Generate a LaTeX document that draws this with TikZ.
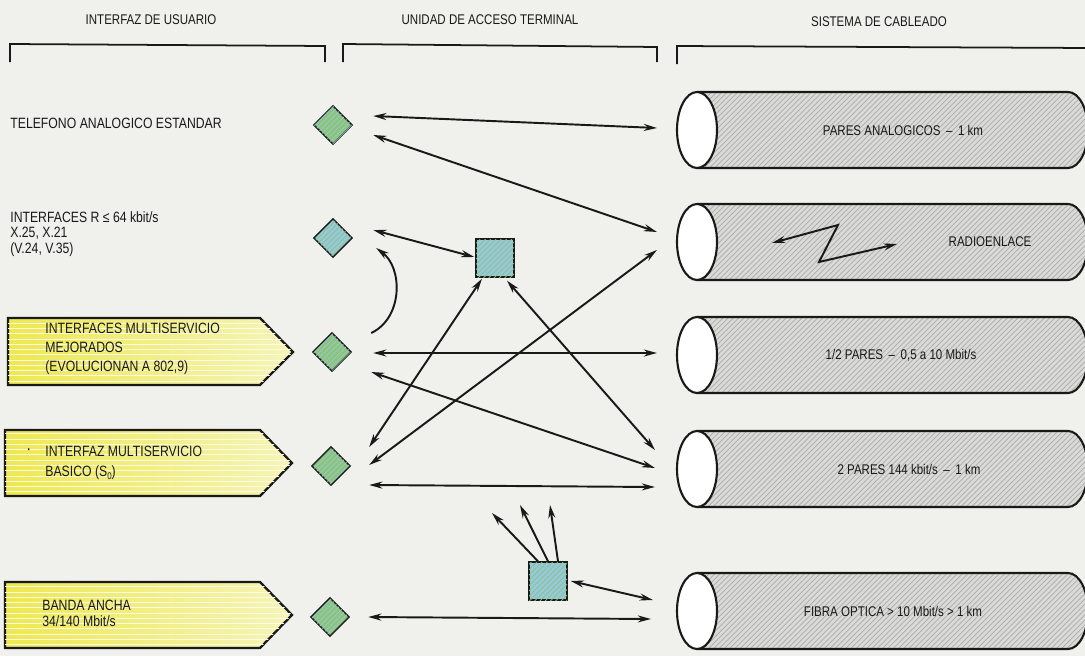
\documentclass[tikz,border=0pt]{standalone}
\usepackage{fontspec}
\setmainfont{Liberation Sans}[FakeStretch=0.82]
\usetikzlibrary{shapes.geometric,arrows.meta,patterns}
\definecolor{bg}{RGB}{240,240,237}
\definecolor{dgreen}{RGB}{140,196,120}
\definecolor{dblue}{RGB}{150,200,222}
\definecolor{ylw}{RGB}{238,232,80}
\definecolor{ylwl}{RGB}{246,244,185}
\definecolor{cylg}{RGB}{218,218,216}
\definecolor{cyls}{RGB}{172,172,170}
\definecolor{ink}{RGB}{25,25,25}
\tikzset{
  hdr/.style={font=\fontsize{8}{9}\selectfont, text=ink, inner sep=0},
  lbl/.style={font=\fontsize{8.5}{9}\selectfont, text=ink, inner sep=0, align=left, anchor=west},
  cyltxt/.style={font=\fontsize{8}{9}\selectfont, text=ink, inner sep=0},
  brk/.style={draw=ink, line width=1pt},
  ybox/.style={draw=ink, line width=1.3pt, left color=ylw, right color=ylwl,
    postaction={pattern=horizontal lines, pattern color=white!60!ylwl}},
  diag/.style={diamond, aspect=1, minimum size=0.78cm, inner sep=0, draw=ink, line width=0.8pt,
    fill=dgreen, postaction={pattern=north east lines, pattern color=dblue}},
  diab/.style={diamond, aspect=1, minimum size=0.78cm, inner sep=0, draw=ink, line width=0.8pt,
    fill=dblue, postaction={pattern=north east lines, pattern color=dgreen}},
  sqb/.style={rectangle, minimum size=0.76cm, inner sep=0, draw=ink, line width=0.8pt,
    fill=dblue, postaction={pattern=north east lines, pattern color=dgreen}},
  cylbody/.style={fill=cylg, postaction={pattern=north east lines, pattern color=cyls}},
  cylline/.style={draw=ink, line width=1.2pt},
  endell/.style={ellipse, minimum width=0.8cm, minimum height=1.52cm, inner sep=0, draw=ink, line width=1.2pt, fill=white},
  conn/.style={draw=ink, line width=1.1pt, {Stealth[length=7.5pt,width=4pt]}-{Stealth[length=7.5pt,width=4pt]}},
  conn1/.style={draw=ink, line width=1.1pt, -{Stealth[length=7.5pt,width=4pt]}},
}
\newcommand\mycyl[3]{%
  \fill[cylbody] (697,#2-38) -- (1068,#2-38) arc[start angle=90,end angle=-90,x radius=0.4cm,y radius=0.76cm] -- (697,#2+38) -- cycle;
  \draw[cylline] (697,#2-38) -- (1068,#2-38) arc[start angle=90,end angle=-90,x radius=0.4cm,y radius=0.76cm] -- (697,#2+38);
  \node[endell] (#1) at (697,#2) {};
  \coordinate (#1t) at (#3,#2);
}
\begin{document}
\begin{tikzpicture}[x=0.02cm,y=-0.02cm]
\useasboundingbox (0,0) rectangle (1085,656);
\fill[bg] (0,0) rectangle (1085,656);

% headers
\node[hdr] (h1) at (151,20) {INTERFAZ DE USUARIO};
\node[hdr] (h2) at (490,20) {UNIDAD DE ACCESO TERMINAL};
\node[hdr] (h3) at (879,22) {SISTEMA DE CABLEADO};
\draw[brk] (10,62) -- (10,44) -- (325,46) -- (325,62);
\draw[brk] (343,62) -- (343,44) -- (657,47) -- (657,62);
\draw[brk] (677,64) -- (677,46) -- (1090,48);

% left labels
\node[lbl] (l1) at (10,123) {TELEFONO ANALOGICO ESTANDAR};
\node[lbl, font=\fontsize{8.5}{8.8}\selectfont] (l2) at (10,234) {INTERFACES R ≤ 64 kbit/s\\X.25, X.21\\(V.24, V.35)};

% yellow boxes
\draw[ybox] (8,318) -- (260,318) -- (293,352) -- (260,385) -- (8,385) -- cycle;
\draw[ybox] (5,430) -- (260,430) -- (292,463) -- (260,496) -- (5,496) -- cycle;
\draw[ybox] (5,582) -- (260,582) -- (292,615) -- (260,648) -- (5,648) -- cycle;
\node[lbl, font=\fontsize{8.5}{10.8}\selectfont] (l3) at (45,349) {INTERFACES MULTISERVICIO\\MEJORADOS\\(EVOLUCIONAN A 802,9)};
\node[lbl, font=\fontsize{8.5}{11.2}\selectfont] (l4) at (45,463) {INTERFAZ MULTISERVICIO\\BASICO (S\raisebox{-1.5pt}{\fontsize{5.5}{5}\selectfont 0})};
\node[lbl, font=\fontsize{10}{10}\selectfont] (l4b) at (26,452) {\textperiodcentered};
\node[lbl, font=\fontsize{8.5}{9.2}\selectfont] (l5) at (42,613) {BANDA ANCHA\\34/140 Mbit/s};

% diamonds
\node[diag] (d1) at (333,125) {};
\node[diab] (d2) at (333,238) {};
\node[diag] (d3) at (332,352) {};
\node[diag] (d4) at (331,466) {};
\node[diag] (d5) at (330,617) {};

% squares
\node[sqb] (s1) at (495,258) {};
\node[sqb] (s2) at (548,581) {};

% cylinders
\mycyl{c1}{130}{903}
\mycyl{c2}{242}{990}
\mycyl{c3}{355}{901}
\mycyl{c4}{469}{909}
\mycyl{c5}{611}{893}
\node[cyltxt] (t1) at (c1t) {PARES ANALOGICOS \,–\, 1 km};
\node[cyltxt] (t2) at (c2t) {RADIOENLACE};
\node[cyltxt] (t3) at (c3t) {1/2 PARES \,–\, 0,5 a 10 Mbit/s};
\node[cyltxt] (t4) at (c4t) {2 PARES 144 kbit/s \,–\, 1 km};
\node[cyltxt] (t5) at (c5t) {FIBRA OPTICA > 10 Mbit/s > 1 km};

% radio zigzag
\coordinate (z1) at (772,243);
\coordinate (z2) at (838,225);
\coordinate (z3) at (819,262);
\coordinate (z4) at (897,244);
\draw[conn] (z1) -- (z2) -- (z3) -- (z4);

% connectors
\draw[conn] ([shift={(20,-9)}]d1.east) -- ([shift={(-19,-2)}]c1.west);
\draw[conn] ([shift={(20,10)}]d1.east) -- ([shift={(-19,-10)}]c2.west);
\draw[conn] ([shift={(20,-8)}]d2.east) -- ([shift={(-1,-1)}]s1.west);
\draw[conn1] ([shift={(19,-19)}]d3.east) .. controls (403,318) and (403,268) .. ([shift={(23,10)}]d2.east);
\draw[conn] ([shift={(21,1)}]d3.east) -- ([shift={(-19,-2)}]c3.west);
\draw[conn] ([shift={(-13,1)}]s1.south) -- ([shift={(18,-19)}]d4.east);
\draw[conn] ([shift={(12,3)}]s1.south) -- ([shift={(-21,-19)}]c4.west);
\draw[conn] ([shift={(18,-1)}]d4.east) -- ([shift={(-19,8)}]c2.west);
\draw[conn] ([shift={(19,20)}]d3.east) -- ([shift={(-21,-1)}]c4.west);
\draw[conn] ([shift={(18,19)}]d4.east) -- ([shift={(-21,18)}]c4.west);
\coordinate (f1) at (492,513);
\coordinate (f2) at (520,505);
\coordinate (f3) at (550,505);
\draw[conn1] ([shift={(-10,0)}]s2.north) -- (f1);
\draw[conn1] ([shift={(0,0)}]s2.north) -- (f2);
\draw[conn1] ([shift={(10,0)}]s2.north) -- (f3);
\draw[conn] ([shift={(3,0)}]s2.east) -- ([shift={(-23,-11)}]c5.west);
\draw[conn] ([shift={(18,0)}]d5.east) -- ([shift={(-25,8)}]c5.west);
\end{tikzpicture}
\end{document}
